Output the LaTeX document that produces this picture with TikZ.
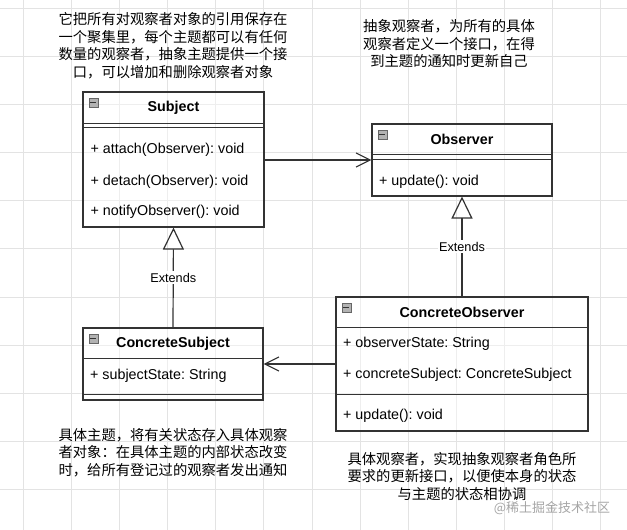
\documentclass[tikz,border=0pt]{standalone}
\usepackage{fontspec}
\setmainfont{Liberation Sans}
\newfontfamily\cjk{Noto Sans CJK SC}
\usepackage{tikz}
\usetikzlibrary{positioning}
\usetikzlibrary{arrows.meta}
\usetikzlibrary{calc}
\frenchspacing

\begin{document}
\begin{tikzpicture}[x=1pt, y=-1pt,
	every node/.style={font=\fontsize{14.3}{17.5}\selectfont},
	umlbox/.style={draw=black!80, line width=1.1pt, inner sep=0pt, fill=white, fill opacity=0.4},
	classtitle/.style={font=\fontsize{14.3}{17.5}\selectfont\bfseries},
	member/.style={anchor=west, inner sep=0pt},
	sepline/.style={draw=black!80, line width=1.1pt},
	boxicon/.style={draw=black!60, fill=black!30, minimum size=9pt, inner sep=0pt, line width=0.6pt,
		path picture={\draw[black!80, line width=1pt] ($(path picture bounding box.west)+(1.5,0)$) -- ($(path picture bounding box.east)+(-1.5,0)$);}},
	notetext/.style={font=\fontsize{14.3}{17.5}\selectfont\cjk, align=center, inner sep=0pt},
	gridline/.style={draw=black!11, line width=0.8pt},
	assoc/.style={draw=black!80, line width=1.2pt, -{Straight Barb[length=14pt, width=14pt]}},
	extends/.style={draw=black!80, line width=1.2pt, -{Triangle[open, length=22pt, width=21pt]}},
	extlabel/.style={fill=white, inner sep=1.5pt, font=\fontsize{12.7}{15}\selectfont}]

\fill[white] (0,0) rectangle (627,530);
\useasboundingbox (0,0) rectangle (627,530);

% grid
\foreach \gx in {0,...,12}
	\draw[gridline] ({23+48.15*\gx},0) -- ({23+48.15*\gx},530);
\foreach \gy in {0,...,10}
	\draw[gridline] (0,{8+48.15*\gy}) -- (627,{8+48.15*\gy});

% Subject
\node[umlbox, minimum width=181pt, minimum height=135pt] (subject) at (173.5,159.5) {};
\node[boxicon] (subicon) at ($(subject.north west)+(11,11)$) {};
\node[classtitle] (subtitle) at ($(subject.north)+(0,16.5)$) {Subject};
\draw[sepline] ($(subject.north west)+(0,32)$) -- ($(subject.north east)+(0,32)$);
\draw[sepline] ($(subject.north west)+(0,36)$) -- ($(subject.north east)+(0,36)$);
\node[member] (subattach) at ($(subject.north west)+(8,58)$) {+ attach(Observer): void};
\node[member] (subdetach) at ($(subject.north west)+(8,90)$) {+ detach(Observer): void};
\node[member] (subnotify) at ($(subject.north west)+(8,120)$) {+ notifyObserver(): void};

% Observer
\node[umlbox, minimum width=180pt, minimum height=72pt] (observer) at (462,160) {};
\node[boxicon] (obsicon) at ($(observer.north west)+(11,11)$) {};
\node[classtitle] (obstitle) at ($(observer.north)+(0,16)$) {Observer};
\draw[sepline] ($(observer.north west)+(0,31)$) -- ($(observer.north east)+(0,31)$);
\draw[sepline] ($(observer.north west)+(0,36)$) -- ($(observer.north east)+(0,36)$);
\node[member] (obsupdate) at ($(observer.north west)+(7.5,58)$) {+ update(): void};

% ConcreteSubject
\node[umlbox, minimum width=180pt, minimum height=72pt] (csubject) at (173,364) {};
\node[boxicon] (csicon) at ($(csubject.north west)+(11,11)$) {};
\node[classtitle] (cstitle) at ($(csubject.north)+(0,16)$) {ConcreteSubject};
\draw[sepline] ($(csubject.north west)+(0,31)$) -- ($(csubject.north east)+(0,31)$);
\draw[sepline] ($(csubject.north west)+(0,67)$) -- ($(csubject.north east)+(0,67)$);
\node[member] (csstate) at ($(csubject.north west)+(7.5,48)$) {+ subjectState: String};

% ConcreteObserver
\node[umlbox, minimum width=252pt, minimum height=134pt] (cobserver) at (462,364) {};
\node[boxicon] (coicon) at ($(cobserver.north west)+(11,11)$) {};
\node[classtitle] (cotitle) at ($(cobserver.north)+(0,16)$) {ConcreteObserver};
\draw[sepline] ($(cobserver.north west)+(0,31)$) -- ($(cobserver.north east)+(0,31)$);
\draw[sepline] ($(cobserver.north west)+(0,98)$) -- ($(cobserver.north east)+(0,98)$);
\node[member] (costate) at ($(cobserver.north west)+(7.5,47)$) {+ observerState: String};
\node[member] (cosubject) at ($(cobserver.north west)+(7.5,78)$) {+ concreteSubject: ConcreteSubject};
\node[member] (coupdate) at ($(cobserver.north west)+(7.5,119)$) {+ update(): void};

% connectors
\draw[assoc] (subject.east |- observer.west) -- (observer.west);
\draw[assoc] (cobserver.west |- csubject.east) -- (csubject.east);
\draw[extends] (csubject.north) -- node[extlabel] (csext) {Extends} (subject.south);
\draw[extends] (cobserver.north) -- node[extlabel] (coext) {Extends} (observer.south);

% notes
\node[notetext] (subnote) at (173,45.5) {它把所有对观察者对象的引用保存在\\一个聚集里，每个主题都可以有任何\\数量的观察者，抽象主题提供一个接\\口，可以增加和删除观察者对象};
\node[notetext] (obsnote) at (449,44) {抽象观察者，为所有的具体\\观察者定义一个接口，在得\\到主题的通知时更新自己};
\node[notetext] (csnote) at (173,452.5) {具体主题，将有关状态存入具体观察\\者对象：在具体主题的内部状态改变\\时，给所有登记过的观察者发出通知};
\node[notetext] (conote) at (462,476.5) {具体观察者，实现抽象观察者角色所\\要求的更新接口，以便使本身的状态\\与主题的状态相协调};
\node[font=\fontsize{13}{15}\selectfont\cjk, text=black!35, inner sep=0pt] (mark) at (552,508) {@稀土掘金技术社区};
\end{tikzpicture}
\end{document}
